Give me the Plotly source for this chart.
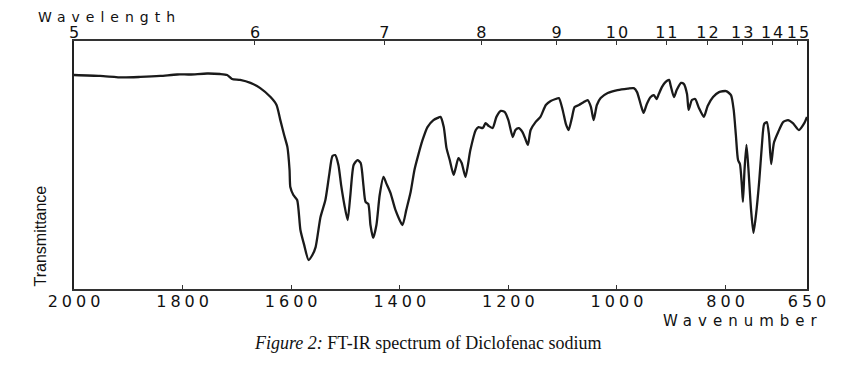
import plotly.graph_objects as go

# Spectrum (wavenumber in cm^-1, transmittance in arbitrary %)
wavenumber = [2000, 1952, 1910, 1878, 1841, 1810, 1786, 1755, 1731, 1718, 1709, 1694, 1675, 1657,
              1638, 1627, 1620, 1613, 1607, 1603, 1601.6, 1596, 1589, 1583, 1576, 1568, 1561, 1555,
              1546, 1537, 1530, 1524, 1519, 1513, 1508, 1502, 1496, 1491, 1485, 1478, 1472, 1467,
              1463, 1458, 1454, 1449, 1443, 1437, 1430, 1425, 1417, 1408, 1395, 1388, 1380, 1373,
              1366, 1358, 1349, 1338, 1330, 1325, 1319, 1314, 1308, 1301, 1297, 1292, 1286, 1279,
              1270, 1260, 1255, 1247, 1242, 1236, 1229, 1222, 1214, 1207, 1200, 1192, 1187, 1181,
              1174, 1168, 1164, 1159, 1150, 1141, 1131, 1122, 1113, 1107, 1100, 1094, 1089, 1083,
              1078, 1070, 1061, 1054, 1048, 1043, 1037, 1030, 1017, 999, 980, 969, 963, 956, 951,
              945, 938, 932, 927, 923, 917, 912, 904, 901, 895, 890, 882, 877, 871, 868, 862, 856,
              849, 840, 833, 823, 812, 799, 790, 785, 781, 777, 773.5, 770, 768, 765, 761.5, 758,
              753, 748.6, 744, 738, 733, 729, 724, 720, 716, 711, 703, 694, 685, 676, 665, 655, 650]
transmittance = [86.3, 85.9, 85.3, 85.5, 85.9, 86.5, 86.5, 86.9, 86.7, 86.3, 84.7, 84.3, 83.1, 81.0,
                 77.4, 74.2, 68.1, 62.1, 57.3, 48.0, 41.1, 37.9, 35.9, 23.8, 17.7, 11.7, 13.7, 16.9,
                 29.0, 35.9, 46.0, 53.6, 54.0, 50.0, 41.9, 33.9, 27.8, 37.9, 50.0, 52.0, 50.8, 41.9,
                 35.1, 34.3, 25.8, 20.6, 25.8, 37.9, 45.2, 42.7, 38.7, 31.9, 25.8, 31.9, 39.1, 48.0,
                 54.0, 60.1, 65.3, 68.1, 69.0, 69.4, 65.3, 56.9, 52.0, 46.0, 48.8, 52.8, 50.8, 45.2,
                 56.0, 64.1, 65.3, 64.9, 66.9, 65.7, 64.9, 69.4, 71.8, 71.4, 68.1, 61.3, 64.1, 64.9,
                 63.3, 60.1, 58.1, 64.1, 67.3, 69.4, 74.2, 75.8, 76.6, 77.0, 72.2, 66.5, 64.1, 69.0,
                 73.4, 74.2, 75.4, 76.2, 73.4, 68.1, 74.2, 77.0, 79.0, 80.2, 80.8, 81.0, 79.4, 74.2, 71.0,
                 74.6, 77.4, 78.2, 76.6, 78.6, 81.5, 83.1, 84.3, 81.9, 77.4, 80.2, 83.1, 82.7, 78.6, 72.2, 76.2, 76.6,
                 73.0, 69.4, 73.8, 77.4, 79.4, 79.8, 78.2, 72.2, 62.1, 52.0, 50.4, 41.9, 35.1, 48.4, 58.1, 48.8,
                 31.9, 22.6, 29.8, 43.5, 58.1, 66.5, 67.3, 62.1, 50.4, 58.9, 63.3, 67.3, 68.1, 66.9, 64.1, 66.9, 69.4]

# Axis ticks
wavenumber_ticks = [2000, 1800, 1600, 1400, 1200, 1000, 800, 650]
wavelength_ticks = [5, 6, 7, 8, 9, 10, 11, 12, 13, 14, 15]

tick_font = dict(family="DejaVu Sans", size=16, color="#111")

fig = go.Figure()
fig.add_trace(go.Scatter(x=wavenumber, y=transmittance, mode="lines",
                         line=dict(color="#1a1a1a", width=2.3, shape="spline", smoothing=0.6),
                         hoverinfo="skip", showlegend=False))
# invisible trace on the top axis so that it is rendered
fig.add_trace(go.Scatter(x=[2000, 650], y=[None, None], xaxis="x2", mode="lines",
                         showlegend=False, hoverinfo="skip"))

fig.update_layout(
    width=851, height=361,
    margin=dict(l=66, r=52, t=33, b=80),
    paper_bgcolor="white", plot_bgcolor="white",
    xaxis=dict(range=[2000, 650], tickvals=wavenumber_ticks,
               ticktext=[str(v) for v in wavenumber_ticks],
               ticks="inside", ticklen=4, tickwidth=1, tickcolor="#333",
               showline=True, linecolor="#333", linewidth=1.5, mirror=False,
               showgrid=False, zeroline=False, tickangle=0, tickfont=tick_font,
               ticklabelstandoff=-3),
    xaxis2=dict(range=[2000, 650], overlaying="x", side="top",
                tickvals=[10000 / w for w in wavelength_ticks],
                ticktext=[str(w) for w in wavelength_ticks],
                ticks="inside", ticklen=4, tickwidth=1, tickcolor="#333",
                showline=True, linecolor="#333", linewidth=1.5,
                showgrid=False, zeroline=False, tickangle=0, tickfont=tick_font,
                ticklabelstandoff=-5),
    yaxis=dict(range=[0, 100], showticklabels=False, ticks="", showgrid=False,
               zeroline=False, showline=True, linecolor="#222", linewidth=2, mirror=True),
)

fig.add_annotation(text="Wavelength", xref="paper", yref="paper", x=-0.0095, y=1.133,
                   xanchor="left", yanchor="top", showarrow=False, borderpad=0,
                   font=dict(family="DejaVu Sans", size=14, color="#111"))
fig.add_annotation(text="Wavenumber", xref="paper", yref="paper", x=0.914, y=-0.128,
                   xanchor="center", yanchor="middle", showarrow=False,
                   font=dict(family="DejaVu Sans", size=15, color="#111"))
fig.add_annotation(text="Transmittance", xref="paper", yref="paper", x=0, y=0.0,
                   xanchor="center", yanchor="bottom", xshift=-34, showarrow=False, textangle=-90,
                   font=dict(family="Liberation Sans Narrow, Arial Narrow, Liberation Sans",
                             size=16, color="#111"))
fig.add_annotation(text="<i>Figure 2:</i> FT-IR spectrum of Diclofenac sodium",
                   xref="paper", yref="paper", x=0.483, y=-0.218, xanchor="center", yanchor="middle",
                   showarrow=False,
                   font=dict(family="Liberation Serif, Times New Roman, serif", size=18, color="#111"))

# widen the (horizontally stretched) sans-serif labels of the reference
post = """
var gd = document.getElementById('{plot_id}');
gd.querySelectorAll('.xtick text').forEach(function(t){ t.style.letterSpacing='4px'; t.setAttribute('dx','2'); });
gd.querySelectorAll('.x2tick text').forEach(function(t){ t.style.letterSpacing='2px'; t.setAttribute('dx','1'); });
gd.querySelectorAll('.annotation-text').forEach(function(t){
  if (t.textContent === 'Wavelength') { t.style.letterSpacing='6px'; }
  if (t.textContent === 'Wavenumber') { t.style.letterSpacing='6px'; }
});
"""

fig.write_html("out.html", post_script=post)
